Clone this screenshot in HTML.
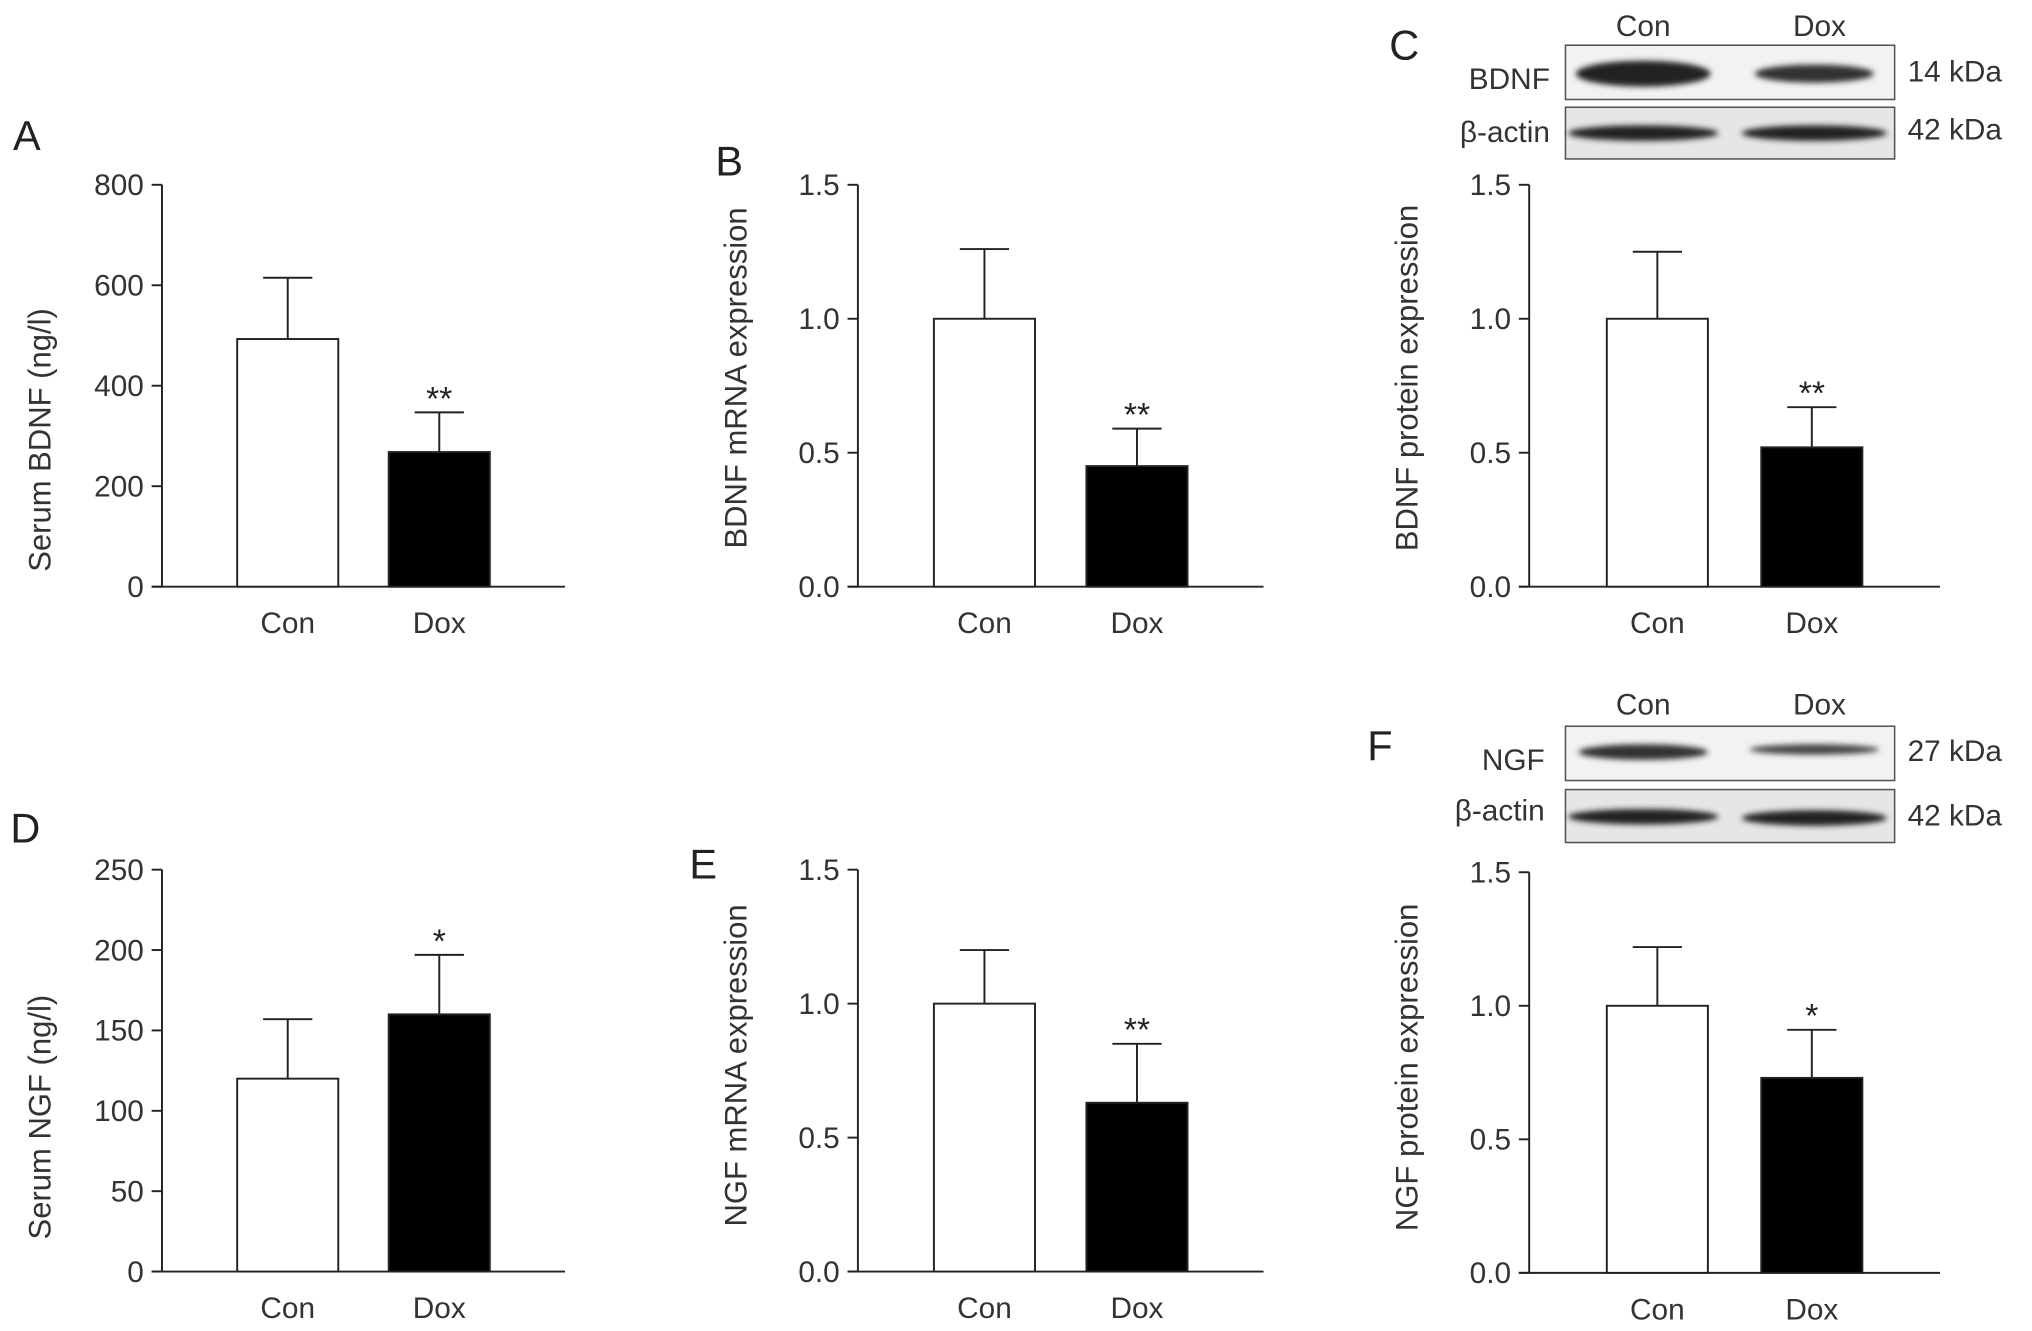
<!DOCTYPE html>
<html><head><meta charset="utf-8"><style>
html,body{margin:0;padding:0;background:#fff;}
svg{display:block;font-family:"Liberation Sans",sans-serif;}
</style></head><body>
<svg id="fig" width="2032" height="1331" viewBox="0 0 1568 1030" preserveAspectRatio="none" xmlns="http://www.w3.org/2000/svg">
<defs>
<filter id="blur" x="-20%" y="-50%" width="140%" height="200%"><feGaussianBlur stdDeviation="2.2"/></filter>
</defs>
<g id="blots">
<text x="1268" y="28" font-size="23" fill="#333" text-anchor="middle">Con</text>
<text x="1404" y="28" font-size="23" fill="#333" text-anchor="middle">Dox</text>
<text x="1196" y="69" font-size="23" fill="#333" text-anchor="end">BDNF</text>
<text x="1196" y="110" font-size="23" fill="#333" text-anchor="end">β-actin</text>
<rect x="1208" y="35" width="254" height="42" fill="#f2f2f2" stroke="#555" stroke-width="1.2"/>
<rect x="1208" y="83" width="254" height="40" fill="#e6e6e6" stroke="#555" stroke-width="1.2"/>
<ellipse cx="1268" cy="57" rx="52" ry="10" fill="#222" filter="url(#blur)"/>
<ellipse cx="1400" cy="57" rx="46" ry="7" fill="#333" filter="url(#blur)"/>
<ellipse cx="1268" cy="103" rx="58" ry="6" fill="#222" filter="url(#blur)"/>
<ellipse cx="1400" cy="103" rx="56" ry="6" fill="#222" filter="url(#blur)"/>
<text x="1472" y="63" font-size="23" fill="#333">14 kDa</text>
<text x="1472" y="108" font-size="23" fill="#333">42 kDa</text>

<text x="1268" y="553" font-size="23" fill="#333" text-anchor="middle">Con</text>
<text x="1404" y="553" font-size="23" fill="#333" text-anchor="middle">Dox</text>
<text x="1192" y="596" font-size="23" fill="#333" text-anchor="end">NGF</text>
<text x="1192" y="635" font-size="23" fill="#333" text-anchor="end">β-actin</text>
<rect x="1208" y="562" width="254" height="42" fill="#f2f2f2" stroke="#555" stroke-width="1.2"/>
<rect x="1208" y="611" width="254" height="41" fill="#e6e6e6" stroke="#555" stroke-width="1.2"/>
<ellipse cx="1268" cy="582" rx="50" ry="6" fill="#333" filter="url(#blur)"/>
<ellipse cx="1400" cy="580" rx="50" ry="4" fill="#444" filter="url(#blur)"/>
<ellipse cx="1268" cy="632" rx="58" ry="6" fill="#222" filter="url(#blur)"/>
<ellipse cx="1400" cy="633" rx="56" ry="6" fill="#222" filter="url(#blur)"/>
<text x="1472" y="589" font-size="23" fill="#333">27 kDa</text>
<text x="1472" y="639" font-size="23" fill="#333">42 kDa</text>
</g>
</svg>
<script>
const categories = ["Con", "Dox"];
const meansA = [493, 268];  const errA = [615, 347];
const meansB = [1.0, 0.45]; const errB = [1.26, 0.59];
const meansC = [1.0, 0.52]; const errC = [1.25, 0.67];
const meansD = [120, 160];  const errD = [157, 197];
const meansE = [1.0, 0.63]; const errE = [1.2, 0.85];
const meansF = [1.0, 0.73]; const errF = [1.22, 0.91];
const ticksA = [0, 200, 400, 600, 800];
const ticksD = [0, 50, 100, 150, 200, 250];
const ticks15 = [0.0, 0.5, 1.0, 1.5];
const sigA = ["", "**"], sigB = ["", "**"], sigC = ["", "**"], sigD = ["", "*"], sigE = ["", "**"], sigF = ["", "*"];

const NS = "http://www.w3.org/2000/svg";
const svg = document.getElementById("fig");
function mk(tag, attrs, parent) {
  const e = document.createElementNS(NS, tag);
  for (const k in attrs) e.setAttribute(k, attrs[k]);
  (parent || svg).appendChild(e);
  return e;
}
function panel(id, letter, lx, ly, ax, top, bot, xEnd, ticks, dec, means, errs, sig, ylabel, tOff) {
  const g = mk("g", {});
  
  
  const max = ticks[ticks.length - 1];
  const y = v => bot - v / max * (bot - top);
  const L = mk("text", {x: lx, y: ly, "font-size": 32, fill: "#222"}, g);
  L.textContent = letter;
  
  
  const ya = mk("line", {x1: ax, y1: top, x2: ax, y2: bot, stroke: "#222", "stroke-width": 1.5}, g);
  
  
  const xa = mk("line", {x1: ax - 8, y1: bot, x2: xEnd, y2: bot, stroke: "#222", "stroke-width": 1.5}, g);
  
  
  ticks.forEach(t => {
    const tk = mk("line", {x1: ax - 8, y1: y(t), x2: ax, y2: y(t), stroke: "#222", "stroke-width": 1.5}, g);
    
    
    const tl = mk("text", {x: ax - 14, y: y(t) + 8, "font-size": 23, fill: "#333", "text-anchor": "end"}, g);
    tl.textContent = t.toFixed(dec);
    
    
  });
  const yt = mk("text", {transform: `translate(${ax - 86},${(top + bot) / 2 + tOff}) rotate(-90)`, "font-size": 24, fill: "#333", "text-anchor": "middle"}, g);
  yt.textContent = ylabel;
  
  
  const span = xEnd - ax;
  const centers = [ax + span * 0.312, ax + span * 0.688];
  const bw = 78;
  categories.forEach((c, i) => {
    const cx = centers[i];
    const eb = mk("line", {x1: cx, y1: y(errs[i]), x2: cx, y2: y(means[i]), stroke: "#222", "stroke-width": 1.5}, g);
    
    
    const cap = mk("line", {x1: cx - 19, y1: y(errs[i]), x2: cx + 19, y2: y(errs[i]), stroke: "#222", "stroke-width": 1.5}, g);
    
    
    const b = mk("rect", {x: cx - bw / 2, y: y(means[i]), width: bw, height: bot - y(means[i]), fill: i ? "#000" : "#fff", stroke: "#222", "stroke-width": 1.5}, g);
    
    
    const xl = mk("text", {x: cx, y: bot + 36, "font-size": 23, fill: "#333", "text-anchor": "middle"}, g);
    xl.textContent = c;
    
    
    if (sig[i]) {
      const s = mk("text", {x: cx, y: y(errs[i]) - 2, "font-size": 26, fill: "#222", "text-anchor": "middle"}, g);
      s.textContent = sig[i];
      
      
    }
  });
}
panel("a", "A", 10, 116, 125, 143, 454, 436, ticksA, 0, meansA, errA, sigA, "Serum BDNF (ng/l)", 42);
panel("b", "B", 552, 136, 662, 143, 454, 975, ticks15, 1, meansB, errB, sigB, "BDNF mRNA expression", -6);
panel("c", "C", 1072, 46, 1180, 143, 454, 1497, ticks15, 1, meansC, errC, sigC, "BDNF protein expression", -6);
panel("d", "D", 8, 652, 125, 673, 984, 436, ticksD, 0, meansD, errD, sigD, "Serum NGF (ng/l)", 36);
panel("e", "E", 532, 680, 662, 673, 984, 975, ticks15, 1, meansE, errE, sigE, "NGF mRNA expression", -4);
panel("f", "F", 1055, 588, 1180, 675, 985, 1497, ticks15, 1, meansF, errF, sigF, "NGF protein expression", -4);
</script>
</body></html>
